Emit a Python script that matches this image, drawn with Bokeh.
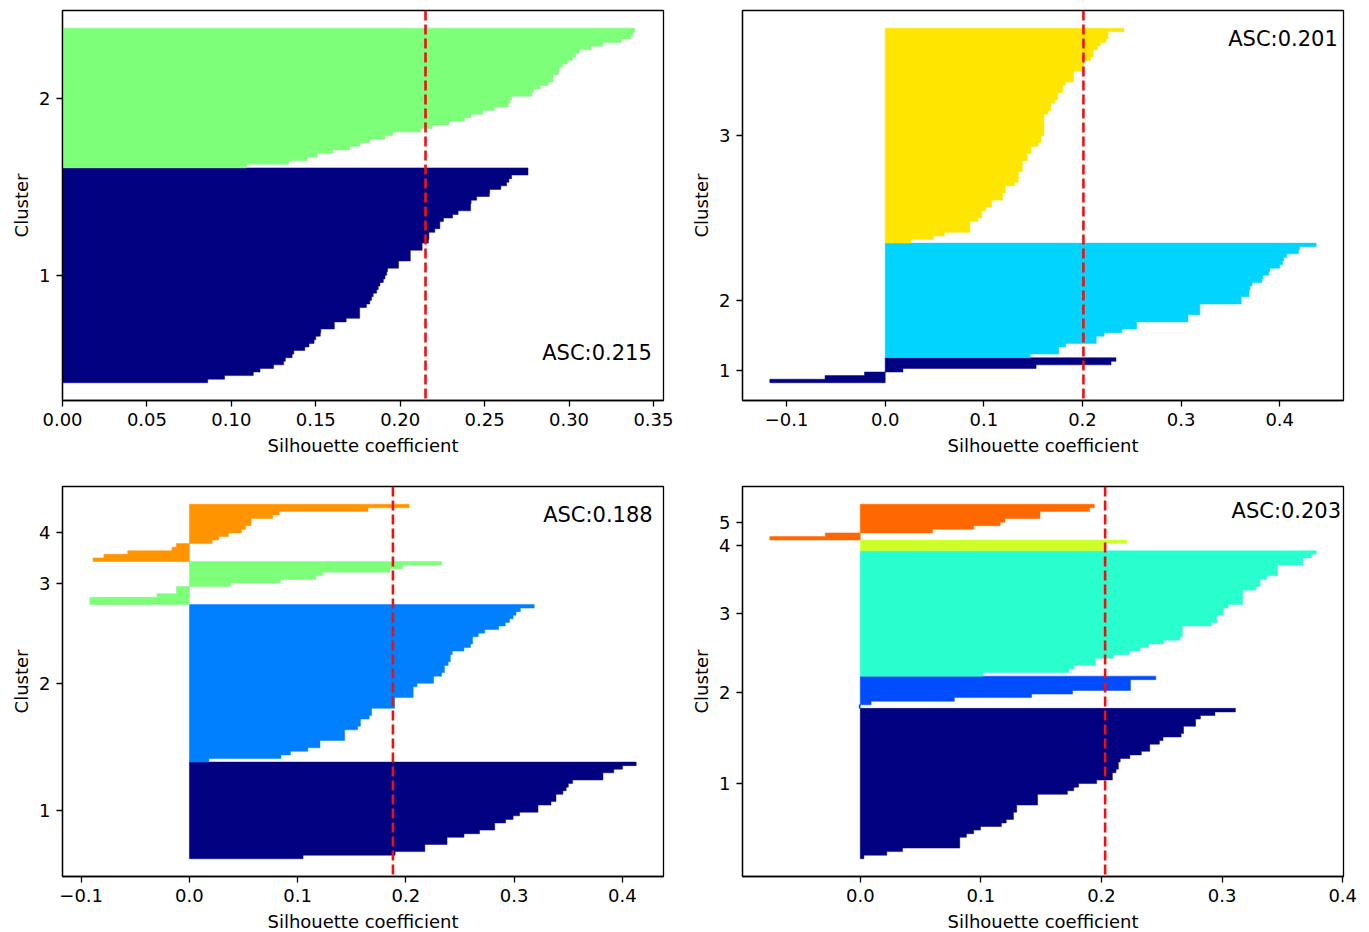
from bokeh.plotting import figure
from bokeh.models import Span, Label, FixedTicker, Range1d
from bokeh.layouts import column, row
from bokeh.embed import file_html
from bokeh.resources import INLINE

# ---------------- data ----------------
ASC = [0.215, 0.201, 0.188, 0.203]

# panel 1 : 2 clusters
P1_C1 = [0.086, 0.096, 0.113, 0.117, 0.125, 0.131, 0.132, 0.136, 0.137, 0.1435,
         0.146, 0.149, 0.150, 0.1527, 0.153, 0.161, 0.161, 0.168, 0.176, 0.176,
         0.176, 0.180, 0.182, 0.183, 0.184, 0.186, 0.187, 0.188, 0.190, 0.191,
         0.192, 0.1925, 0.199, 0.199, 0.206, 0.206, 0.206, 0.213, 0.213, 0.2167,
         0.217, 0.217, 0.2205, 0.2235, 0.2235, 0.2256, 0.231, 0.2343, 0.2417, 0.2417,
         0.242, 0.2453, 0.2528, 0.253, 0.2596, 0.263, 0.2644, 0.266, 0.2757, 0.2757]
P1_C2 = [0.109, 0.134, 0.145, 0.151, 0.160, 0.170, 0.176, 0.182, 0.191, 0.1955,
         0.212, 0.219, 0.229, 0.238, 0.242, 0.249, 0.2557, 0.264, 0.265, 0.266,
         0.278, 0.279, 0.283, 0.2877, 0.2905, 0.2905, 0.2937, 0.294, 0.296, 0.299,
         0.302, 0.304, 0.306, 0.313, 0.320, 0.331, 0.3365, 0.338, 0.339]

# panel 2 : 3 clusters
P2_C1 = [-0.117, -0.061, -0.021, 0.018, 0.153, 0.229, 0.234]
P2_C2 = [0.147, 0.176, 0.176, 0.183, 0.214, 0.214, 0.222, 0.240, 0.255, 0.255,
         0.307, 0.307, 0.319, 0.319, 0.319, 0.361, 0.361, 0.369, 0.369, 0.370,
         0.372, 0.382, 0.383, 0.389, 0.390, 0.400, 0.403, 0.404, 0.407, 0.419,
         0.420, 0.437]
P2_C3 = [0.026, 0.049, 0.060, 0.086, 0.086, 0.086, 0.094, 0.098, 0.098, 0.102,
         0.108, 0.108, 0.119, 0.119, 0.122, 0.122, 0.131, 0.135, 0.135, 0.135,
         0.139, 0.139, 0.139, 0.144, 0.144, 0.148, 0.148, 0.155, 0.158, 0.158,
         0.161, 0.161, 0.161, 0.161, 0.161, 0.161, 0.165, 0.168, 0.168, 0.172,
         0.175, 0.175, 0.180, 0.180, 0.183, 0.191, 0.191, 0.191, 0.201, 0.201,
         0.201, 0.208, 0.211, 0.211, 0.215, 0.218, 0.224, 0.226, 0.226, 0.242]

# panel 3 : 4 clusters
P3_C1 = [0.105, 0.190, 0.2175, 0.2175, 0.238, 0.238, 0.2536, 0.268, 0.282, 0.282,
         0.292, 0.299, 0.305, 0.322, 0.322, 0.334, 0.3386, 0.3386, 0.345, 0.348,
         0.350, 0.354, 0.382, 0.382, 0.392, 0.400, 0.4127]
P3_C2 = [0.018, 0.0845, 0.0933, 0.1094, 0.1206, 0.1206, 0.1434, 0.1434, 0.1434, 0.1554,
         0.158, 0.158, 0.166, 0.1683, 0.1683, 0.1895, 0.1895, 0.1895, 0.2067, 0.2067,
         0.2067, 0.2103, 0.2256, 0.2256, 0.233, 0.2356, 0.2356, 0.239, 0.241, 0.241,
         0.2428, 0.2536, 0.2596, 0.2616, 0.2616, 0.2668, 0.2728, 0.2857, 0.2917, 0.2957,
         0.299, 0.3017, 0.3057, 0.3185]
P3_C3 = [-0.092, -0.092, -0.030, -0.012, -0.012, 0.038, 0.084, 0.117, 0.123, 0.185,
         0.197, 0.233]
P3_C4 = [-0.089, -0.079, -0.057, -0.016, -0.012, 0.021, 0.027, 0.036, 0.048, 0.052,
         0.057, 0.057, 0.077, 0.083, 0.165, 0.203]

# panel 4 : 5 clusters
P4_C1 = [0.003, 0.022, 0.035, 0.0825, 0.0825, 0.0825, 0.088, 0.094, 0.0997, 0.117,
         0.121, 0.127, 0.127, 0.1297, 0.1297, 0.147, 0.147, 0.147, 0.1717, 0.177,
         0.181, 0.196, 0.209, 0.209, 0.212, 0.214, 0.214, 0.2155, 0.2235, 0.233,
         0.240, 0.240, 0.248, 0.251, 0.266, 0.268, 0.268, 0.278, 0.278, 0.282,
         0.294, 0.311]
P4_C2 = [-0.001, 0.009, 0.078, 0.142, 0.176, 0.224, 0.224, 0.224, 0.245]
P4_C3 = [0.102, 0.173, 0.177, 0.195, 0.195, 0.210, 0.223, 0.232, 0.239, 0.2514,
         0.265, 0.267, 0.267, 0.267, 0.291, 0.2956, 0.2956, 0.301, 0.301, 0.305,
         0.317, 0.317, 0.317, 0.317, 0.328, 0.3315, 0.3315, 0.337, 0.346, 0.346,
         0.346, 0.367, 0.367, 0.374, 0.378]
P4_C4 = [0.202, 0.202, 0.221]
P4_C5 = [-0.075, -0.029, 0.060, 0.094, 0.116, 0.120, 0.149, 0.149, 0.190, 0.194]

# cluster colours (jet colormap samples)
P1_COLORS = ["#000080", "#7dff7a"]
P2_COLORS = ["#000080", "#00d4ff", "#ffe600"]
P3_COLORS = ["#000080", "#0080ff", "#7dff7a", "#ff9400"]
P4_COLORS = ["#000080", "#004cff", "#29ffce", "#ceff29", "#ff6800"]

# tick labels
P1_XTICKS = [0.0, 0.05, 0.10, 0.15, 0.20, 0.25, 0.30, 0.35]
P1_XLABELS = ["0.00", "0.05", "0.10", "0.15", "0.20", "0.25", "0.30", "0.35"]
P2_XTICKS = [-0.1, 0.0, 0.1, 0.2, 0.3, 0.4]
P2_XLABELS = ["\u22120.1", "0.0", "0.1", "0.2", "0.3", "0.4"]
P3_XTICKS = [-0.1, 0.0, 0.1, 0.2, 0.3, 0.4]
P3_XLABELS = ["\u22120.1", "0.0", "0.1", "0.2", "0.3", "0.4"]
P4_XTICKS = [0.0, 0.1, 0.2, 0.3, 0.4]
P4_XLABELS = ["0.0", "0.1", "0.2", "0.3", "0.4"]

# ---------------- styling ----------------
FONT = "DejaVu Sans"
FW, FH = 601, 390


def key(t):
    return int(t) if float(t).is_integer() else t


def stair_outline(vals, y_lower):
    """Outline of one cluster's sorted silhouette values (one unit row per sample)."""
    xs, ys = [0.0], [y_lower]
    for i, v in enumerate(vals):
        xs += [v, v]
        ys += [y_lower + i, y_lower + i + 1]
    xs.append(0.0)
    ys.append(y_lower + len(vals))
    return xs, ys


def make_panel(clusters, colors, asc, xticks, xlabels, label_pos, borders):
    sizes = [len(c) for c in clusters]
    n = sum(sizes)
    allv = [v for c in clusters for v in c]
    lo = min(min(allv), 0.0)
    hi = max(allv)
    pad = 0.05 * (hi - lo)
    x0 = lo - pad if min(allv) < 0 else 0.0
    x1 = hi + pad
    y0, y1 = -0.05 * n, 1.05 * n
    bl, br, bt, bb = borders
    p = figure(frame_width=FW, frame_height=FH,
               x_range=Range1d(x0, x1), y_range=Range1d(y0, y1),
               output_backend="svg", toolbar_location=None,
               min_border_left=bl, min_border_right=br,
               min_border_top=bt, min_border_bottom=bb,
               background_fill_color="white", border_fill_color="white")
    y_lower = 0
    ticks = []
    for c, col in zip(clusters, colors):
        vals = sorted(c)
        xs, ys = stair_outline(vals, y_lower)
        p.patch(xs, ys, fill_color=col, line_color=col, line_width=0.5)
        ticks.append(y_lower + len(vals) / 2.0)
        y_lower += len(vals)

    p.add_layout(Span(location=asc, dimension="height", line_color="#ee1111",
                      line_width=2.6, line_dash="10 4"))

    fx, fy = label_pos
    p.add_layout(Label(x=x1 - fx * (x1 - x0), y=y0 + fy * (y1 - y0),
                       text="ASC:%.3f" % asc, text_align="right",
                       text_baseline="middle", text_font=FONT,
                       text_font_size="21px", text_color="black"))

    p.xgrid.visible = False
    p.ygrid.visible = False
    p.outline_line_color = "black"
    p.outline_line_width = 1.3

    p.xaxis.ticker = FixedTicker(ticks=xticks, minor_ticks=[])
    p.xaxis.major_label_overrides = {key(t): l for t, l in zip(xticks, xlabels)}
    p.yaxis.ticker = FixedTicker(ticks=ticks, minor_ticks=[])
    p.yaxis.major_label_overrides = {key(t): str(i + 1) for i, t in enumerate(ticks)}

    p.xaxis.axis_label = "Silhouette coefficient"
    p.yaxis.axis_label = "Cluster"
    for ax in (p.xaxis[0], p.yaxis[0]):
        ax.axis_label_text_font = FONT
        ax.axis_label_text_font_size = "18px"
        ax.axis_label_text_font_style = "normal"
        ax.axis_label_text_color = "black"
        ax.major_label_text_font = FONT
        ax.major_label_text_font_size = "18px"
        ax.major_label_text_color = "black"
        ax.axis_line_color = "black"
        ax.axis_line_width = 1.3
        ax.major_tick_line_color = "black"
        ax.major_tick_line_width = 1.3
        ax.major_tick_out = 6
        ax.major_tick_in = 0
        ax.minor_tick_line_color = None
        ax.major_label_standoff = 6
    p.xaxis.axis_label_standoff = 6
    p.yaxis.axis_label_standoff = 4
    p.yaxis.major_label_orientation = "horizontal"
    return p


p1 = make_panel([P1_C1, P1_C2], P1_COLORS, ASC[0], P1_XTICKS, P1_XLABELS,
                (0.0195, 0.123), (62, 16, 10, 62))
p2 = make_panel([P2_C1, P2_C2, P2_C3], P2_COLORS, ASC[1], P2_XTICKS, P2_XLABELS,
                (0.0095, 0.928), (63, 16, 10, 62))
p3 = make_panel([P3_C1, P3_C2, P3_C3, P3_C4], P3_COLORS, ASC[2], P3_XTICKS, P3_XLABELS,
                (0.018, 0.926), (62, 16, 24, 56))
p4 = make_panel([P4_C1, P4_C2, P4_C3, P4_C4, P4_C5], P4_COLORS, ASC[3], P4_XTICKS, P4_XLABELS,
                (0.004, 0.936), (63, 16, 24, 56))

layout = column(row(p1, p2), row(p3, p4))
open("out.html", "w").write(file_html(layout, INLINE))
